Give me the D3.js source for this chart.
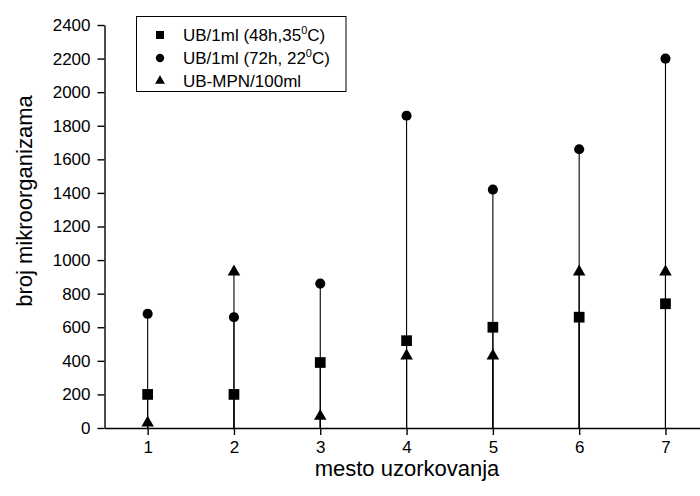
<!DOCTYPE html>
<html>
<head>
<meta charset="utf-8">
<script src="https://cdn.jsdelivr.net/npm/d3@7"></script>
<style>
  body { margin: 0; background: #fff; }
  svg { font-family: "Liberation Sans", Arial, sans-serif; }
  .axis text { font-size: 17px; fill: #000; }
  .axis path, .axis line { stroke: #000; stroke-width: 1.4; }
</style>
</head>
<body>
<div id="chart"></div>
<script>
// sampling sites
const sites = [1, 2, 3, 4, 5, 6, 7];
// UB/1ml (48h, 35C)
const ub48 = [200, 200, 390, 520, 600, 660, 740];
// UB/1ml (72h, 22C)
const ub72 = [680, 660, 860, 1860, 1420, 1660, 2200];
// UB-MPN/100ml
const mpn = [30, 930, 70, 430, 430, 930, 930];
const yTicks = [0, 200, 400, 600, 800, 1000, 1200, 1400, 1600, 1800, 2000, 2200, 2400];

const W = 700, H = 496;
const margin = {top: 25, right: 0, bottom: 68, left: 104.5};

const svg = d3.select('#chart').append('svg')
  .attr('width', W).attr('height', H);

const x = d3.scaleLinear()
  .domain([0.5, 7.4])
  .range([margin.left, W - margin.right]);

const y = d3.scaleLinear()
  .domain([0, 2400])
  .range([H - margin.bottom, margin.top]);

// drop lines from 0 to each value
const series = [
  {name: 'sq', values: ub48},
  {name: 'ci', values: ub72},
  {name: 'tr', values: mpn}
];

series.forEach(s => {
  svg.append('g').selectAll('line')
    .data(sites)
    .enter().append('line')
      .attr('x1', d => x(d)).attr('x2', d => x(d))
      .attr('y1', y(0))
      .attr('y2', (d, i) => y(s.values[i]))
      .attr('stroke', '#000')
      .attr('stroke-width', 1.1);
});

// axes
svg.append('g')
  .attr('class', 'axis')
  .attr('transform', 'translate(0,' + y(0) + ')')
  .call(d3.axisBottom(x).tickValues(sites).tickFormat(d3.format('d'))
    .tickSize(7).tickSizeOuter(0).tickPadding(6));

svg.append('g')
  .attr('class', 'axis')
  .attr('transform', 'translate(' + margin.left + ',0)')
  .call(d3.axisLeft(y).tickValues(yTicks).tickFormat(d3.format('d'))
    .tickSize(7).tickSizeOuter(0).tickPadding(7));

// markers
const sym = {
  sq: d3.symbol().type(d3.symbolSquare).size(115),
  ci: d3.symbol().type(d3.symbolCircle).size(80),
  tr: d3.symbol().type(d3.symbolTriangle).size(68)
};
const legSym = {
  sq: d3.symbol().type(d3.symbolSquare).size(64),
  ci: d3.symbol().type(d3.symbolCircle).size(55),
  tr: d3.symbol().type(d3.symbolTriangle).size(42)
};

series.forEach(s => {
  svg.append('g').selectAll('path')
    .data(sites)
    .enter().append('path')
      .attr('d', sym[s.name])
      .attr('transform', (d, i) => 'translate(' + x(d) + ',' + y(s.values[i]) + ')')
      .attr('fill', '#000');
});

// axis titles
svg.append('text')
  .attr('x', 407).attr('y', 476)
  .attr('text-anchor', 'middle')
  .style('font-size', '22px')
  .text('mesto uzorkovanja');

svg.append('text')
  .attr('transform', 'translate(32,201) rotate(-90)')
  .attr('text-anchor', 'middle')
  .style('font-size', '22px')
  .text('broj mikroorganizama');

// legend
const legend = svg.append('g');
legend.append('rect')
  .attr('x', 136.5).attr('y', 16.5)
  .attr('width', 209.5).attr('height', 75)
  .attr('fill', '#fff').attr('stroke', '#000').attr('stroke-width', 1);

const legendRows = [
  {name: 'sq', label: ['UB/1ml (48h,35', '0', 'C)']},
  {name: 'ci', label: ['UB/1ml (72h, 22', '0', 'C)']},
  {name: 'tr', label: ['UB-MPN/100ml']}
];

legendRows.forEach((r, i) => {
  const cy = 35 + i * 23;
  legend.append('path')
    .attr('d', legSym[r.name])
    .attr('transform', 'translate(160,' + cy + ')')
    .attr('fill', '#000');
  const t = legend.append('text')
    .attr('x', 183).attr('y', cy + 6)
    .style('font-size', '17px');
  t.append('tspan').text(r.label[0]);
  if (r.label.length > 1) {
    t.append('tspan').attr('dy', -7).style('font-size', '11px').text(r.label[1]);
    t.append('tspan').attr('dy', 7).text(r.label[2]);
  }
});
</script>
</body>
</html>
